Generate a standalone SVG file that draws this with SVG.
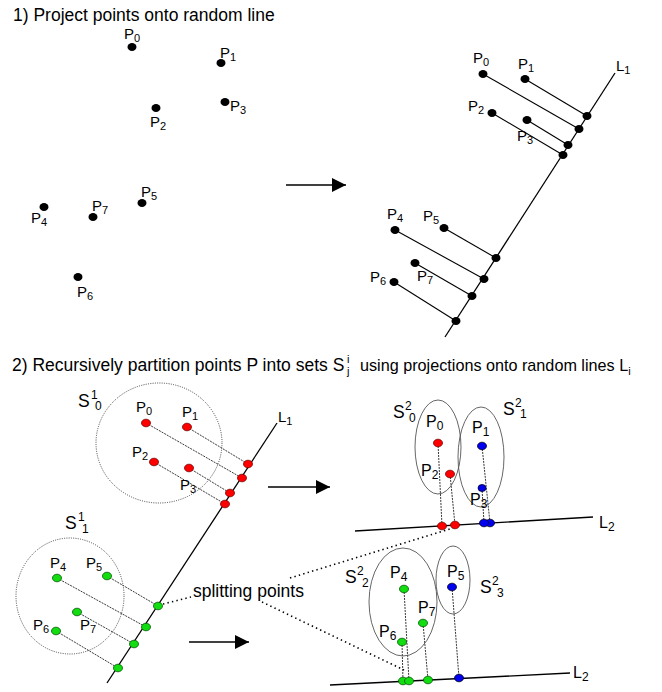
<svg xmlns="http://www.w3.org/2000/svg" width="662" height="692" viewBox="0 0 662 692">
<style>
text{font-family:"Liberation Sans",Arial,sans-serif;fill:#000}
.t{font-size:17.5px}
.t2{font-size:16.2px}
.p{font-size:15px}
.p2{font-size:16px}
.s{font-size:11px}
.s2{font-size:12px}
.S{font-size:17.5px}
.bd{fill:#000}
.rd{fill:#f00;stroke:#700;stroke-width:0.8}
.gd{fill:#1d1;stroke:#050;stroke-width:0.8}
.bl{fill:#00e;stroke:#002;stroke-width:0.8}
.ln{stroke:#000;stroke-width:1.3;fill:none}
.pj{stroke:#000;stroke-width:1.1;fill:none}
.dp{stroke:#222;stroke-width:0.9;stroke-dasharray:2 1;fill:none}
.dc{stroke:#333;stroke-width:0.9;stroke-dasharray:1 1.3;fill:none}
.el{stroke:#555;stroke-width:0.9;fill:none}
.sp{stroke:#000;stroke-width:1.6;stroke-dasharray:1.4 3.2;fill:none}
.ar{stroke:#000;stroke-width:1.3;fill:none;marker-end:url(#ah)}
</style>
<defs>
<marker id="ah" markerUnits="userSpaceOnUse" markerWidth="14" markerHeight="14" refX="14" refY="7" orient="auto"><path d="M0,0 L14,7 L0,14 z" fill="#000"/></marker>
</defs>

<text class="t" x="13" y="21">1) Project points onto random line</text>
<text class="t" x="12" y="371">2) Recursively partition points P into sets S</text>
<text class="s" x="347" y="363">i</text>
<text class="s" x="347" y="375">j</text>
<text class="t2" x="360" y="371">using projections onto random lines L<tspan class="s" dy="4">i</tspan></text>

<g id="connectors">
  <!-- part 1 -->
  <line class="ar" x1="286" y1="185" x2="346" y2="185"/>
  <line class="ln" x1="615" y1="73" x2="445" y2="337"/>
  <line class="pj" x1="483" y1="74" x2="579" y2="129"/>
  <line class="pj" x1="525" y1="79" x2="587" y2="116"/>
  <line class="pj" x1="492" y1="113" x2="563" y2="155"/>
  <line class="pj" x1="527" y1="120" x2="568" y2="145"/>
  <line class="pj" x1="395" y1="230" x2="484" y2="279"/>
  <line class="pj" x1="444" y1="228" x2="496" y2="258"/>
  <line class="pj" x1="394" y1="282" x2="456" y2="321"/>
  <line class="pj" x1="415" y1="263" x2="472" y2="296"/>
  <!-- part 2 left -->
  <line class="ln" x1="277" y1="423" x2="107" y2="683"/>
  <line class="dp" x1="146" y1="423" x2="242" y2="478"/>
  <line class="dp" x1="187" y1="427" x2="248" y2="464"/>
  <line class="dp" x1="154" y1="462" x2="225" y2="504"/>
  <line class="dp" x1="189" y1="468" x2="230" y2="493"/>
  <line class="dp" x1="57" y1="578" x2="146" y2="627"/>
  <line class="dp" x1="107" y1="576" x2="158" y2="606"/>
  <line class="dp" x1="56" y1="631" x2="118" y2="668"/>
  <line class="dp" x1="77" y1="612" x2="134" y2="644"/>
  <line class="ar" x1="268" y1="487" x2="330" y2="487"/>
  <line class="ar" x1="189" y1="642" x2="249" y2="642"/>
  <!-- splitting point pointers -->
  <line class="sp" x1="163" y1="604" x2="191" y2="597"/>
  <line class="sp" x1="290" y1="578" x2="453" y2="528"/>
  <line class="sp" x1="262" y1="602" x2="404" y2="670"/>
  <!-- part 2 right -->
  <line class="ln" x1="355" y1="531" x2="593" y2="517"/>
  <line class="dp" x1="438" y1="443" x2="442" y2="526"/>
  <line class="dp" x1="450" y1="474" x2="455" y2="525"/>
  <line class="dp" x1="482" y1="446" x2="490" y2="523"/>
  <line class="dp" x1="482" y1="488" x2="484" y2="523"/>
  <line class="ln" x1="330" y1="685" x2="570" y2="673"/>
  <line class="dp" x1="404" y1="589" x2="409" y2="681"/>
  <line class="dp" x1="402" y1="642" x2="403" y2="681"/>
  <line class="dp" x1="423" y1="623" x2="428" y2="680"/>
  <line class="dp" x1="452" y1="587" x2="459" y2="678"/>
</g>

<!-- Part 1 left points -->
<g id="p1-P0"><ellipse class="bd" cx="132" cy="47" rx="4.5" ry="4"/><text class="p" x="124" y="39">P<tspan class="s" dy="3">0</tspan></text></g>
<g id="p1-P1"><ellipse class="bd" cx="221" cy="63" rx="4.5" ry="4"/><text class="p" x="220" y="58">P<tspan class="s" dy="3">1</tspan></text></g>
<g id="p1-P2"><ellipse class="bd" cx="156" cy="108" rx="4.5" ry="4"/><text class="p" x="150" y="127">P<tspan class="s" dy="3">2</tspan></text></g>
<g id="p1-P3"><ellipse class="bd" cx="225" cy="102" rx="4.5" ry="4"/><text class="p" x="230" y="111">P<tspan class="s" dy="3">3</tspan></text></g>
<g id="p1-P4"><ellipse class="bd" cx="44" cy="207" rx="4.5" ry="4"/><text class="p" x="31" y="223">P<tspan class="s" dy="3">4</tspan></text></g>
<g id="p1-P5"><ellipse class="bd" cx="142" cy="203" rx="4.5" ry="4"/><text class="p" x="141" y="197">P<tspan class="s" dy="3">5</tspan></text></g>
<g id="p1-P6"><ellipse class="bd" cx="78" cy="277" rx="4.5" ry="4"/><text class="p" x="77" y="297">P<tspan class="s" dy="3">6</tspan></text></g>
<g id="p1-P7"><ellipse class="bd" cx="93" cy="217" rx="4.5" ry="4"/><text class="p" x="92" y="211">P<tspan class="s" dy="3">7</tspan></text></g>

<!-- Part 1 right -->
<g id="p1r-L1"><text class="p" x="616" y="71">L<tspan class="s" dy="3">1</tspan></text></g>
<g id="p1r-P0"><ellipse class="bd" cx="483" cy="74" rx="4.5" ry="4"/><text class="p" x="473" y="63">P<tspan class="s" dy="3">0</tspan></text></g>
<g id="p1r-P1"><ellipse class="bd" cx="525" cy="79" rx="4.5" ry="4"/><text class="p" x="518" y="69">P<tspan class="s" dy="3">1</tspan></text></g>
<g id="p1r-P2"><ellipse class="bd" cx="492" cy="113" rx="4.5" ry="4"/><text class="p" x="468" y="111">P<tspan class="s" dy="3">2</tspan></text></g>
<g id="p1r-P3"><ellipse class="bd" cx="527" cy="120" rx="4.5" ry="4"/><text class="p" x="517" y="141">P<tspan class="s" dy="3">3</tspan></text></g>
<g id="p1r-P4"><ellipse class="bd" cx="395" cy="230" rx="4.5" ry="4"/><text class="p" x="387" y="219">P<tspan class="s" dy="3">4</tspan></text></g>
<g id="p1r-P5"><ellipse class="bd" cx="444" cy="228" rx="4.5" ry="4"/><text class="p" x="423" y="221">P<tspan class="s" dy="3">5</tspan></text></g>
<g id="p1r-P6"><ellipse class="bd" cx="394" cy="282" rx="4.5" ry="4"/><text class="p" x="370" y="282">P<tspan class="s" dy="3">6</tspan></text></g>
<g id="p1r-P7"><ellipse class="bd" cx="415" cy="263" rx="4.5" ry="4"/><text class="p" x="417" y="281">P<tspan class="s" dy="3">7</tspan></text></g>
<g id="p1r-proj">
  <ellipse class="bd" cx="587" cy="116" rx="4.5" ry="4"/>
  <ellipse class="bd" cx="579" cy="129" rx="4.5" ry="4"/>
  <ellipse class="bd" cx="568" cy="145" rx="4.5" ry="4"/>
  <ellipse class="bd" cx="563" cy="155" rx="4.5" ry="4"/>
  <ellipse class="bd" cx="496" cy="258" rx="4.5" ry="4"/>
  <ellipse class="bd" cx="484" cy="279" rx="4.5" ry="4"/>
  <ellipse class="bd" cx="472" cy="296" rx="4.5" ry="4"/>
  <ellipse class="bd" cx="456" cy="321" rx="4.5" ry="4"/>
</g>

<!-- Part 2 left -->
<g id="S1_0"><ellipse class="dc" cx="159" cy="443" rx="63" ry="60"/><text class="S" x="78" y="407">S</text><text class="s2" x="91" y="399">1</text><text class="s2" x="95" y="410">0</text></g>
<g id="S1_1"><ellipse class="dc" cx="70" cy="596" rx="54" ry="58"/><text class="S" x="65" y="529">S</text><text class="s2" x="78" y="521">1</text><text class="s2" x="82" y="533">1</text></g>
<g id="p2-L1"><text class="p" x="278" y="422">L<tspan class="s" dy="3">1</tspan></text></g>
<g id="p2-P0"><ellipse class="rd" cx="146" cy="423" rx="4.5" ry="3.8"/><text class="p" x="136" y="412">P<tspan class="s" dy="3">0</tspan></text></g>
<g id="p2-P1"><ellipse class="rd" cx="187" cy="427" rx="4.5" ry="3.8"/><text class="p" x="182" y="417">P<tspan class="s" dy="3">1</tspan></text></g>
<g id="p2-P2"><ellipse class="rd" cx="154" cy="462" rx="4.5" ry="3.8"/><text class="p" x="132" y="457">P<tspan class="s" dy="3">2</tspan></text></g>
<g id="p2-P3"><ellipse class="rd" cx="189" cy="468" rx="4.5" ry="3.8"/><text class="p" x="180" y="490">P<tspan class="s" dy="3">3</tspan></text></g>
<g id="p2-P4"><ellipse class="gd" cx="57" cy="578" rx="4.5" ry="3.8"/><text class="p" x="50" y="568">P<tspan class="s" dy="3">4</tspan></text></g>
<g id="p2-P5"><ellipse class="gd" cx="107" cy="576" rx="4.5" ry="3.8"/><text class="p" x="86" y="568">P<tspan class="s" dy="3">5</tspan></text></g>
<g id="p2-P6"><ellipse class="gd" cx="56" cy="631" rx="4.5" ry="3.8"/><text class="p" x="33" y="630">P<tspan class="s" dy="3">6</tspan></text></g>
<g id="p2-P7"><ellipse class="gd" cx="77" cy="612" rx="4.5" ry="3.8"/><text class="p" x="80" y="630">P<tspan class="s" dy="3">7</tspan></text></g>
<g id="p2-proj">
  <ellipse class="rd" cx="248" cy="464" rx="4.5" ry="3.8"/>
  <ellipse class="rd" cx="242" cy="478" rx="4.5" ry="3.8"/>
  <ellipse class="rd" cx="230" cy="493" rx="4.5" ry="3.8"/>
  <ellipse class="rd" cx="225" cy="504" rx="4.5" ry="3.8"/>
  <ellipse class="gd" cx="158" cy="606" rx="4.5" ry="3.8"/>
  <ellipse class="gd" cx="146" cy="627" rx="4.5" ry="3.8"/>
  <ellipse class="gd" cx="134" cy="644" rx="4.5" ry="3.8"/>
  <ellipse class="gd" cx="118" cy="668" rx="4.5" ry="3.8"/>
</g>
<g id="splitting"><text class="t" x="193" y="597">splitting points</text></g>

<!-- Part 2 right top -->
<g id="S2_0"><ellipse class="el" cx="438" cy="447" rx="23" ry="47"/><text class="S" x="393" y="418">S</text><text class="s2" x="405" y="410">2</text><text class="s2" x="409" y="422">0</text></g>
<g id="S2_1"><ellipse class="el" cx="481" cy="457" rx="23" ry="50"/><text class="S" x="503" y="415">S</text><text class="s2" x="515" y="407">2</text><text class="s2" x="520" y="418">1</text></g>
<g id="p3-L2"><text class="p2" x="599" y="528">L<tspan class="s2" dy="3">2</tspan></text></g>
<g id="p3-P0"><ellipse class="rd" cx="438" cy="443" rx="4.5" ry="3.8"/><text class="p2" x="426" y="427">P<tspan class="s2" dy="3">0</tspan></text></g>
<g id="p3-P2"><ellipse class="rd" cx="450" cy="474" rx="4.5" ry="3.8"/><text class="p2" x="421" y="476">P<tspan class="s2" dy="3">2</tspan></text></g>
<g id="p3-P1"><ellipse class="bl" cx="482" cy="446" rx="4.5" ry="3.8"/><text class="p2" x="472" y="433">P<tspan class="s2" dy="3">1</tspan></text></g>
<g id="p3-P3"><ellipse class="bl" cx="482" cy="488" rx="4" ry="3.5"/><text class="p2" x="470" y="505">P<tspan class="s2" dy="3">3</tspan></text></g>
<g id="p3-proj">
  <ellipse class="rd" cx="442" cy="526" rx="4.5" ry="3.8"/>
  <ellipse class="rd" cx="455" cy="525" rx="4.5" ry="3.8"/>
  <ellipse class="bl" cx="490" cy="523" rx="4.5" ry="3.8"/>
  <ellipse class="bl" cx="484" cy="523" rx="4.5" ry="3.8"/>
</g>

<!-- Part 2 right bottom -->
<g id="S2_2"><ellipse class="el" cx="403" cy="602" rx="34" ry="54"/><text class="S" x="345" y="583">S</text><text class="s2" x="357" y="575">2</text><text class="s2" x="362" y="587">2</text></g>
<g id="S2_3"><ellipse class="el" cx="453" cy="580" rx="17" ry="34"/><text class="S" x="480" y="593">S</text><text class="s2" x="492" y="585">2</text><text class="s2" x="497" y="597">3</text></g>
<g id="p4-L2"><text class="p2" x="573" y="678">L<tspan class="s2" dy="3">2</tspan></text></g>
<g id="p4-P4"><ellipse class="gd" cx="404" cy="589" rx="4.5" ry="3.8"/><text class="p2" x="390" y="578">P<tspan class="s2" dy="3">4</tspan></text></g>
<g id="p4-P7"><ellipse class="gd" cx="423" cy="623" rx="4.5" ry="3.8"/><text class="p2" x="418" y="613">P<tspan class="s2" dy="3">7</tspan></text></g>
<g id="p4-P6"><ellipse class="gd" cx="402" cy="642" rx="4.5" ry="3.8"/><text class="p2" x="379" y="637">P<tspan class="s2" dy="3">6</tspan></text></g>
<g id="p4-P5"><ellipse class="bl" cx="452" cy="587" rx="4.5" ry="3.8"/><text class="p2" x="447" y="577">P<tspan class="s2" dy="3">5</tspan></text></g>
<g id="p4-proj">
  <ellipse class="gd" cx="403" cy="681" rx="4.5" ry="3.8"/>
  <ellipse class="gd" cx="409" cy="681" rx="4.5" ry="3.8"/>
  <ellipse class="gd" cx="428" cy="680" rx="4.5" ry="3.8"/>
  <ellipse class="bl" cx="459" cy="678" rx="4.5" ry="3.8"/>
</g>
</svg>
